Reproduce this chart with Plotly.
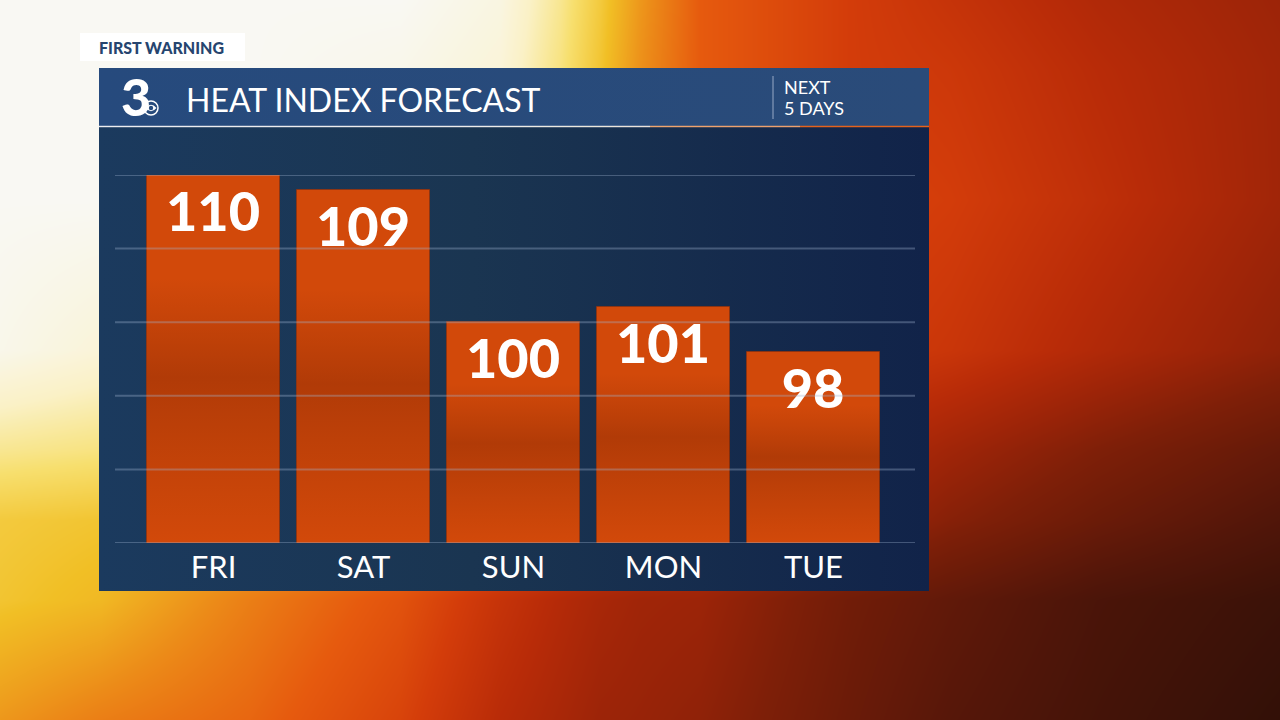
import plotly.graph_objects as go

# ---------------- data ----------------
days = ["FRI", "SAT", "SUN", "MON", "TUE"]
heat_index = [110, 109, 100, 101, 98]
grid_vals = [85, 90, 95, 100, 105, 110]
y_range = [85, 110]
title_text = "HEAT INDEX FORECAST"
badge_text = "FIRST WARNING"
period_text = ["NEXT", "5 DAYS"]

# background "fire" brightness grid (pixel positions of grid nodes + values)
bg_x = [0, 100, 250, 400, 500, 560, 600, 640, 700, 850, 950, 1100, 1280]
bg_y = [0, 70, 200, 350, 450, 520, 600, 720]
bg_z = [
    [1.00, 1.00, 1.00, 1.00, 0.98, 0.92, 0.86, 0.78, 0.68, 0.60, 0.56, 0.50, 0.45],
    [1.00, 1.00, 1.00, 0.99, 0.97, 0.91, 0.85, 0.77, 0.68, 0.60, 0.58, 0.52, 0.46],
    [1.00, 1.00, 0.98, 0.95, 0.90, 0.84, 0.80, 0.74, 0.68, 0.62, 0.60, 0.54, 0.46],
    [0.99, 0.97, 0.94, 0.90, 0.84, 0.79, 0.75, 0.71, 0.66, 0.60, 0.57, 0.50, 0.42],
    [0.92, 0.91, 0.88, 0.82, 0.76, 0.72, 0.68, 0.64, 0.60, 0.52, 0.46, 0.38, 0.30],
    [0.86, 0.85, 0.82, 0.76, 0.70, 0.66, 0.63, 0.60, 0.56, 0.47, 0.40, 0.32, 0.24],
    [0.85, 0.83, 0.74, 0.66, 0.56, 0.51, 0.48, 0.46, 0.45, 0.34, 0.29, 0.22, 0.17],
    [0.78, 0.74, 0.70, 0.62, 0.52, 0.48, 0.45, 0.44, 0.42, 0.32, 0.26, 0.20, 0.14],
]

fire = [
    [0.00, "#1c0a05"], [0.12, "#2c0f07"], [0.25, "#531609"], [0.38, "#7e1f08"],
    [0.45, "#9c2408"], [0.52, "#b82b08"], [0.60, "#d33c0a"], [0.68, "#e65a0e"],
    [0.76, "#ec8a18"], [0.84, "#f1bf25"], [0.90, "#f7df6e"], [0.95, "#faf1c6"],
    [1.00, "#f9f8f3"],
]

BAR_COLOR = "#d2490a"
HEADER = "#274b7c"
FONT = "Lato"

W, H = 1280, 720
bar_w = 133 / 150
idx = list(range(len(days)))

fig = go.Figure()

# ---------- background (pixel-space axes x / y) ----------
fig.add_trace(go.Heatmap(
    x=bg_x, y=bg_y, z=bg_z, colorscale=fire, zmin=0, zmax=1, zsmooth="best",
    showscale=False, hoverinfo="skip", xaxis="x", yaxis="y"))

# panel body
fig.add_trace(go.Scatter(
    x=[99, 929, 929, 99, 99], y=[127, 127, 591, 591, 127], mode="lines",
    fill="toself", line=dict(width=0, color="rgba(0,0,0,0)"),
    fillgradient=dict(type="horizontal",
                      colorscale=[[0, "#1b3a5e"], [0.45, "#1a3551"], [1, "#112349"]]),
    hoverinfo="skip", showlegend=False, xaxis="x", yaxis="y"))
# header bar
fig.add_trace(go.Scatter(
    x=[99, 929, 929, 99, 99], y=[68, 68, 126, 126, 68], mode="lines",
    fill="toself", line=dict(width=0, color="rgba(0,0,0,0)"),
    fillgradient=dict(type="horizontal",
                      colorscale=[[0, "#264a7d"], [1, "#2a4b79"]]),
    hoverinfo="skip", showlegend=False, xaxis="x", yaxis="y"))

# ---------- chart (axes x2 / y2) ----------
fig.add_trace(go.Bar(
    x=idx, y=heat_index, width=bar_w,
    marker=dict(color=BAR_COLOR, line=dict(color="rgba(150,50,10,0.7)", width=1)),
    text=[str(v) for v in heat_index], textposition="inside", insidetextanchor="end",
    textangle=0,
    insidetextfont=dict(family=FONT, size=54, color="white", weight=900),
    hoverinfo="skip", showlegend=False, xaxis="x2", yaxis="y2"))

# per-bar shading band
for i, v in zip(idx, heat_index):
    fig.add_trace(go.Scatter(
        x=[i - bar_w / 2, i + bar_w / 2, i + bar_w / 2, i - bar_w / 2, i - bar_w / 2],
        y=[y_range[0], y_range[0], v, v, y_range[0]],
        mode="lines", fill="toself", line=dict(width=0, color="rgba(0,0,0,0)"),
        fillgradient=dict(type="vertical", colorscale=[
            [0, "rgba(110,30,0,0.0)"], [0.45, "rgba(100,25,0,0.30)"],
            [0.72, "rgba(110,30,0,0.0)"], [1, "rgba(110,30,0,0.0)"]]),
        hoverinfo="skip", showlegend=False, xaxis="x2", yaxis="y2"))

x_lo = -(213.5 - 115) / 150
x_hi = 4 + (915 - 813.5) / 150

fig.update_layout(
    width=W, height=H, margin=dict(l=0, r=0, t=0, b=0),
    paper_bgcolor="#000000", plot_bgcolor="rgba(0,0,0,0)",
    showlegend=False, bargap=0,
    xaxis=dict(domain=[0, 1], range=[0, W], visible=False, fixedrange=True),
    yaxis=dict(domain=[0, 1], range=[H, 0], visible=False, fixedrange=True),
    xaxis2=dict(domain=[115 / W, 915 / W], range=[x_lo, x_hi], anchor="y2",
                tickmode="array", tickvals=idx, ticktext=days,
                tickfont=dict(family=FONT, size=31, color="white"),
                showgrid=False, zeroline=False, showline=False, ticks="",
                ticklabelstandoff=3, fixedrange=True),
    yaxis2=dict(domain=[(H - 543) / H, (H - 175) / H], range=y_range, anchor="x2",
                showticklabels=False, showgrid=False, zeroline=False,
                showline=False, fixedrange=True),
)

shapes = []
# grid lines above bars
for g in grid_vals:
    shapes.append(dict(type="line", xref="x2 domain", yref="y2", x0=0, x1=1,
                       y0=g, y1=g, layer="above",
                       line=dict(color="rgba(160,180,210,0.35)", width=2)))
# header bottom line
shapes += [
    dict(type="line", xref="x", yref="y", x0=99, x1=650, y0=126.5, y1=126.5,
         layer="above", line=dict(color="rgba(235,235,240,0.9)", width=1.5)),
    dict(type="line", xref="x", yref="y", x0=650, x1=800, y0=126.5, y1=126.5,
         layer="above", line=dict(color="rgba(240,170,120,0.9)", width=1.5)),
    dict(type="line", xref="x", yref="y", x0=800, x1=929, y0=126.5, y1=126.5,
         layer="above", line=dict(color="rgba(230,100,30,0.95)", width=1.5)),
]
# divider in header
shapes.append(dict(type="line", xref="x", yref="y", x0=773, x1=773, y0=76, y1=119,
                   layer="above", line=dict(color="rgba(200,210,230,0.7)", width=1)))
# first warning badge
shapes.append(dict(type="rect", xref="x", yref="y", x0=80, x1=245, y0=33, y1=61,
                   layer="above", fillcolor="rgba(255,255,255,0.95)", line=dict(width=0)))
# CBS eye
shapes += [
    dict(type="circle", xref="x", yref="y", x0=144, x1=158, y0=101, y1=115,
         layer="above", fillcolor=HEADER, line=dict(color="white", width=1.5)),
    dict(type="path", xref="x", yref="y",
         path="M 145.5 108 Q 151 101.5 156.5 108 Q 151 114.5 145.5 108 Z",
         layer="above", fillcolor="white", line=dict(width=0)),
    dict(type="circle", xref="x", yref="y", x0=148.8, x1=153.2, y0=105.8, y1=110.2,
         layer="above", fillcolor=HEADER, line=dict(width=0)),
]
fig.update_layout(shapes=shapes)

ann = [
    dict(text=badge_text, x=97, y=47, xanchor="left", yanchor="middle",
         font=dict(family=FONT, size=16, color="#26456f", weight=900)),
    dict(text="3", x=136, y=96, xanchor="center", yanchor="middle",
         font=dict(family=FONT, size=52, color="white", weight=900)),
    dict(text=title_text, x=184, y=99, xanchor="left", yanchor="middle",
         font=dict(family=FONT, size=32, color="white")),
    dict(text=period_text[0], x=782, y=87, xanchor="left", yanchor="middle",
         font=dict(family=FONT, size=18, color="white")),
    dict(text=period_text[1], x=782, y=108, xanchor="left", yanchor="middle",
         font=dict(family=FONT, size=18, color="white")),
]
for a in ann:
    a.update(xref="x", yref="y", showarrow=False)
fig.update_layout(annotations=ann)

fig.write_html(
    "out.html",
    config={"displayModeBar": False},
    post_script="document.body.style.margin='0';document.body.style.overflow='hidden';",
)
